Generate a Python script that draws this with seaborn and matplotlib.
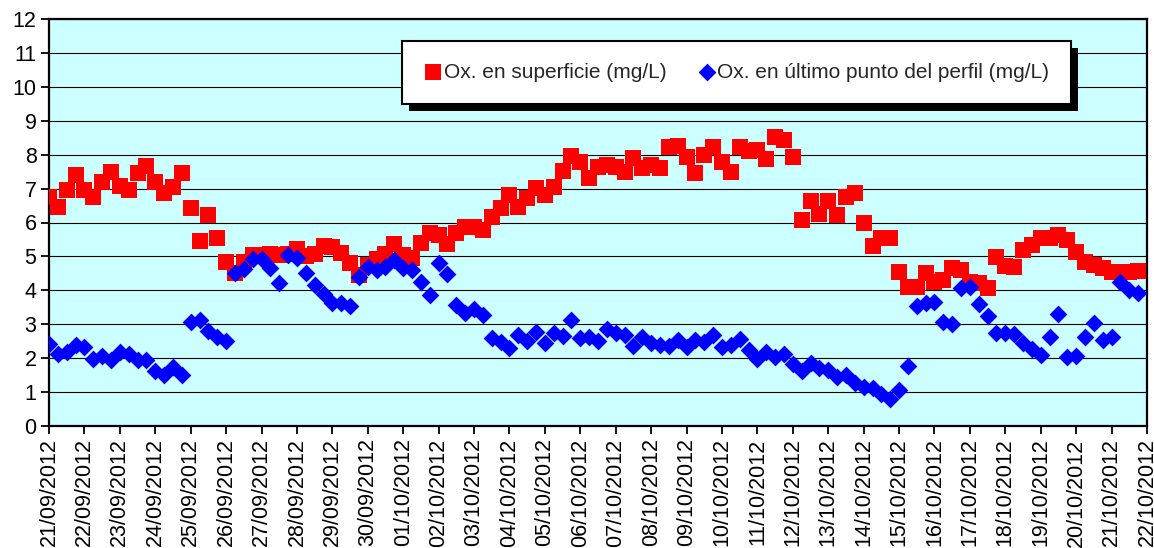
import numpy as np
import pandas as pd
import matplotlib
matplotlib.use('Agg')
import matplotlib.pyplot as plt
import matplotlib.dates as mdates
import seaborn as sns
from matplotlib.patches import Rectangle
from matplotlib.transforms import IdentityTransform

# ---- data (one sample every 6 hours starting 21/09/2012 00:00) ----
start_time = '2012-09-21 00:00'
sample_step = '6h'

ox_superficie = [
    6.76, 6.46, 6.97, 7.40, 6.97, 6.74, 7.20, 7.49, 7.07, 6.97, 7.47, 7.66,
    7.20, 6.88, 7.05, 7.45, 6.44, 5.46, 6.22, 5.55, 4.84, 4.50, 4.85, 5.04,
    5.04, 5.08, 5.04, 5.08, 5.22, 5.00, 5.08, 5.31, 5.28, 5.09, 4.80, 4.45,
    4.75, 4.92, 5.07, 5.37, 5.04, 4.94, 5.41, 5.68, 5.63, 5.37, 5.70, 5.86,
    5.88, 5.78, 6.17, 6.42, 6.81, 6.47, 6.72, 7.01, 6.81, 7.06, 7.53, 7.96,
    7.77, 7.31, 7.65, 7.70, 7.65, 7.50, 7.90, 7.60, 7.70, 7.62, 8.24, 8.26,
    7.92, 7.45, 8.00, 8.22, 7.78, 7.48, 8.22, 8.12, 8.13, 7.88, 8.52, 8.42,
    7.93, 6.06, 6.64, 6.25, 6.62, 6.22, 6.76, 6.88, 6.00, 5.31, 5.54, 5.54,
    4.55, 4.11, 4.11, 4.50, 4.26, 4.31, 4.65, 4.60, 4.26, 4.21, 4.08, 4.99,
    4.73, 4.70, 5.19, 5.34, 5.54, 5.55, 5.63, 5.49, 5.14, 4.85, 4.75, 4.65,
    4.55, 4.55, 4.55, 4.57,
]

ox_ultimo_punto = [
    2.43, 2.13, 2.18, 2.38, 2.33, 1.99, 2.06, 1.96, 2.18, 2.13, 1.96, 1.96,
    1.62, 1.50, 1.74, 1.50, 3.07, 3.14, 2.80, 2.61, 2.50, 4.50, 4.64, 4.93,
    4.93, 4.67, 4.23, 5.04, 4.94, 4.51, 4.15, 3.90, 3.64, 3.64, 3.54, 4.40,
    4.70, 4.60, 4.70, 4.90, 4.65, 4.60, 4.26, 3.86, 4.82, 4.47, 3.57, 3.32,
    3.44, 3.27, 2.59, 2.49, 2.29, 2.68, 2.52, 2.78, 2.46, 2.73, 2.65, 3.13,
    2.59, 2.62, 2.52, 2.85, 2.73, 2.68, 2.36, 2.62, 2.44, 2.40, 2.35, 2.54,
    2.34, 2.54, 2.49, 2.68, 2.32, 2.39, 2.56, 2.24, 1.97, 2.19, 2.04, 2.12,
    1.83, 1.63, 1.85, 1.70, 1.65, 1.44, 1.50, 1.26, 1.16, 1.11, 0.94, 0.79,
    1.06, 1.77, 3.54, 3.64, 3.67, 3.08, 3.00, 4.06, 4.09, 3.60, 3.24, 2.73,
    2.75, 2.72, 2.46, 2.26, 2.09, 2.62, 3.29, 2.04, 2.06, 2.63, 3.05, 2.54,
    2.63, 4.26, 4.01, 3.91,
]

tick_dates = pd.date_range('2012-09-21', '2012-10-22', freq='D')
tick_labels = [d.strftime('%d/%m/%Y') for d in tick_dates]
y_ticks = list(range(0, 13))

label_sup = 'Ox. en superficie (mg/L)'
label_ult = 'Ox. en último punto del perfil (mg/L)'

# ---- style ----
sns.set_theme(style='white')
plt.rcParams['font.family'] = ['Liberation Sans', 'DejaVu Sans']

times = pd.date_range(start_time, periods=len(ox_superficie), freq=sample_step)
df = pd.DataFrame({'fecha': times, 'sup': ox_superficie, 'ult': ox_ultimo_punto})

W, H = 1154, 548
fig = plt.figure(figsize=(W / 100, H / 100), dpi=100)
fig.patch.set_facecolor('white')
ax = fig.add_axes([49 / W, 1 - 426 / H, (1147 - 49) / W, (426 - 19) / H])
ax.set_facecolor('#CCFFFF')

sns.scatterplot(data=df, x='fecha', y='sup', marker='s', s=117, color='#FF0000',
                linewidth=0, ax=ax, label=label_sup, zorder=3)
sns.scatterplot(data=df, x='fecha', y='ult', marker='D', s=82, color='#0000FF',
                linewidth=0, ax=ax, label=label_ult, zorder=3)

ax.set_xlim(mdates.date2num(tick_dates[0]), mdates.date2num(tick_dates[-1]))
ax.set_ylim(0, 12)
ax.set_xticks(mdates.date2num(tick_dates))
ax.set_xticklabels(tick_labels, rotation=90, fontsize=15.5)
ax.set_yticks(y_ticks)
ax.set_yticklabels([str(v) for v in y_ticks], fontsize=15.5)
ax.set_xlabel('')
ax.set_ylabel('')

ax.yaxis.grid(True, color='black', linewidth=0.8)
ax.xaxis.grid(False)
ax.set_axisbelow(True)

for sp in ax.spines.values():
    sp.set_visible(True)
    sp.set_color('black')
    sp.set_linewidth(1.6)

ax.tick_params(axis='both', which='major', direction='out', length=6, width=1.3,
               color='black', labelcolor='black', bottom=True, left=True, pad=3)

leg = ax.legend(loc='upper left', bbox_to_anchor=(402 / W, 1 - 41 / H),
                bbox_transform=fig.transFigure, ncol=2, frameon=True,
                fancybox=False, fontsize=15, borderpad=1.05, handletextpad=0.05,
                columnspacing=1.5, handlelength=0.9, edgecolor='black',
                framealpha=1, borderaxespad=0)
leg.get_frame().set_linewidth(1.5)
leg.get_frame().set_facecolor('white')

fig.canvas.draw()
bb = leg.get_window_extent()
shadow = Rectangle((bb.x0 + 7, bb.y0 - 7), bb.width, bb.height,
                   transform=IdentityTransform(), facecolor='black',
                   edgecolor='none', zorder=4.9, clip_on=False)
ax.add_artist(shadow)

fig.savefig('out.png', dpi=100)
